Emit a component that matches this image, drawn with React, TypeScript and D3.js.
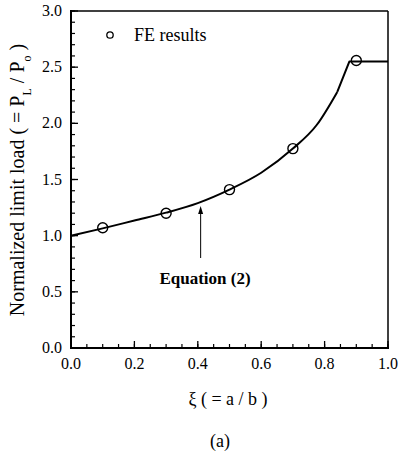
import React from "react";
import * as d3 from "d3";

const feXi = [0.1, 0.3, 0.5, 0.7, 0.9];
const feLoad = [1.07, 1.2, 1.41, 1.775, 2.56];

const eqXi = [0, 0.1, 0.2, 0.3, 0.4, 0.5, 0.6, 0.7, 0.775, 0.84];
const eqLoad = [1.0, 1.065, 1.135, 1.205, 1.29, 1.41, 1.56, 1.775, 1.985, 2.28];
const capXi = [0.84, 0.878, 1.0];
const capLoad = [2.28, 2.55, 2.55];

const xTicks = [0, 0.2, 0.4, 0.6, 0.8, 1.0];
const yTicks = [0, 0.5, 1.0, 1.5, 2.0, 2.5, 3.0];

const W = 400, H = 455;
const L = 71, R = 388, T = 11, B = 348;
const FONT = "Liberation Serif";

export default function App() {
  const x = d3.scaleLinear().domain([0, 1]).range([L, R]);
  const y = d3.scaleLinear().domain([0, 3]).range([B, T]);
  const smooth = d3.line<number>().x((d, i) => x(eqXi[i])).y((d) => y(d)).curve(d3.curveMonotoneX);
  const straight = d3.line<number>().x((d, i) => x(capXi[i])).y((d) => y(d));
  const xMinor = d3.range(0, 1.0001, 0.05);
  const yMinor = d3.range(0, 3.0001, 0.1);
  const arrowX = x(0.409);
  return (
    <svg width={W} height={H} style={{ position: "absolute", left: 0, top: 0, background: "#fff" }}>
      <rect x={0} y={0} width={W} height={H} fill="#fff" />
      <line x1={L} y1={T} x2={R} y2={T} stroke="#000" strokeWidth={1.5} />
      <line x1={R} y1={T} x2={R} y2={B} stroke="#000" strokeWidth={1.5} />
      <line x1={L} y1={T - 1} x2={L} y2={B + 1} stroke="#000" strokeWidth={2} />
      <line x1={L - 1} y1={B} x2={R + 1} y2={B} stroke="#000" strokeWidth={2} />
      {xMinor.map((v, i) => (
        <line key={"xm" + i} x1={x(v)} x2={x(v)} y1={B} y2={B - 4} stroke="#000" strokeWidth={1.2} />
      ))}
      {yMinor.map((v, i) => (
        <line key={"ym" + i} x1={L} x2={L + 4} y1={y(v)} y2={y(v)} stroke="#000" strokeWidth={1.2} />
      ))}
      {xTicks.map((v, i) => (
        <g key={"xt" + i}>
          <line x1={x(v)} x2={x(v)} y1={B} y2={B - 7} stroke="#000" strokeWidth={1.3} />
          <text x={x(v)} y={369} textAnchor="middle" style={{ fontFamily: FONT }} fontSize={16}>{v.toFixed(1)}</text>
        </g>
      ))}
      {yTicks.map((v, i) => (
        <g key={"yt" + i}>
          <line x1={L} x2={L + 7} y1={y(v)} y2={y(v)} stroke="#000" strokeWidth={1.3} />
          <text x={L - 9} y={y(v) + 5} textAnchor="end" style={{ fontFamily: FONT }} fontSize={16}>{v.toFixed(1)}</text>
        </g>
      ))}
      <path d={smooth(eqLoad) || ""} fill="none" stroke="#000" strokeWidth={2} />
      <path d={straight(capLoad) || ""} fill="none" stroke="#000" strokeWidth={2} strokeLinejoin="round" />
      {feXi.map((v, i) => (
        <circle key={"fe" + i} cx={x(v)} cy={y(feLoad[i])} r={5} fill="none" stroke="#000" strokeWidth={1.4} />
      ))}
      <circle cx={110} cy={35} r={3.2} fill="none" stroke="#000" strokeWidth={1.3} />
      <text x={134} y={41} style={{ fontFamily: FONT }} fontSize={18}>FE results</text>
      <line x1={arrowX} x2={arrowX} y1={258} y2={212} stroke="#000" strokeWidth={1} />
      <path d={`M${arrowX},206 L${arrowX - 2.5},214 L${arrowX + 2.5},214 Z`} fill="#000" />
      <text x={205} y={284} textAnchor="middle" style={{ fontFamily: FONT }} fontSize={17} fontWeight="bold">Equation (2)</text>
      <text x={228} y={405} textAnchor="middle" style={{ fontFamily: FONT }} fontSize={18}>ξ ( = a / b )</text>
      <text x={220} y={447} textAnchor="middle" style={{ fontFamily: FONT }} fontSize={18}>(a)</text>
      <text transform={`translate(24, 180) rotate(-90)`} textAnchor="middle" style={{ fontFamily: FONT }} fontSize={20}>
        Normalized limit load ( = P<tspan baselineShift="sub" fontSize={12}>L</tspan> / P<tspan baselineShift="sub" fontSize={12}>o</tspan> )
      </text>
    </svg>
  );
}
